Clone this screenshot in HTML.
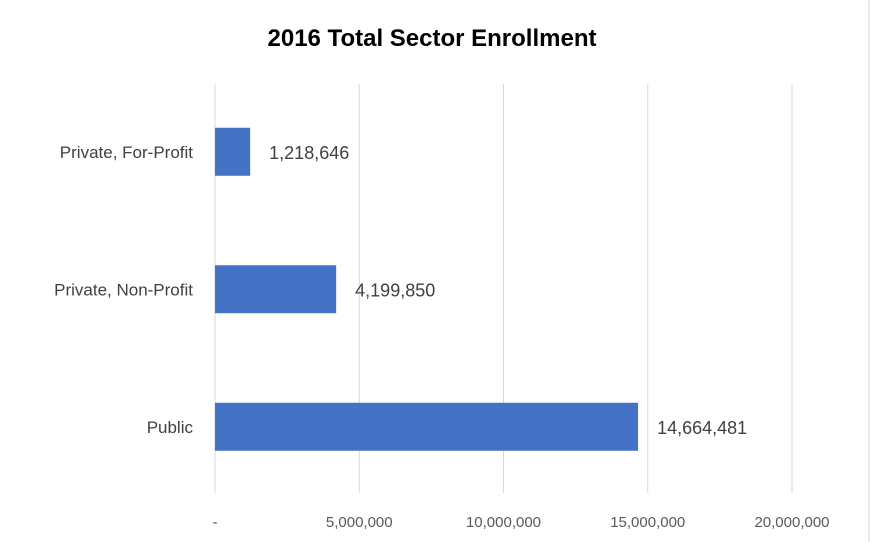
<!DOCTYPE html>
<html><head><meta charset="utf-8"><style>
body{margin:0;background:#fff;}
svg{display:block;font-family:"Liberation Sans",Calibri,sans-serif;}
</style></head><body>
<svg id="c" width="872" height="542">
<line x1="869" y1="0" x2="869" y2="542" stroke="#d9d9d9"/>
<text x="432" y="46" text-anchor="middle" font-size="24" font-weight="bold" fill="#000">2016 Total Sector Enrollment</text>
<g id="grid"></g><g id="bars"></g><g id="labels"></g>
</svg>
<script>
const categories=["Private, For-Profit","Private, Non-Profit","Public"];
const values=[1218646,4199850,14664481];
const valueLabels=["1,218,646","4,199,850","14,664,481"];
const ticks=[0,5000000,10000000,15000000,20000000];
const tickLabels=["-","5,000,000","10,000,000","15,000,000","20,000,000"];
const NS="http://www.w3.org/2000/svg";
const x0=215,x1=792,vmax=20000000;
const xs=v=>x0+(v/vmax)*(x1-x0);
const bandTop=83,bandH=137.5;
const ys=i=>bandTop+bandH*(i+0.5);
function mk(t,a,p){const e=document.createElementNS(NS,t);for(const k in a)e.setAttribute(k,a[k]);p.appendChild(e);return e;}
const g=document.getElementById('grid'),b=document.getElementById('bars'),l=document.getElementById('labels');
ticks.forEach((t,i)=>{
  const ln=mk('line',{x1:xs(t),x2:xs(t),y1:84,y2:493,stroke:'#d9d9d9','stroke-width':1},g);
  
  
  const tx=mk('text',{x:xs(t),y:527,'text-anchor':'middle','font-size':15,fill:'#595959'},l);
  tx.textContent=tickLabels[i];
  
  
});
categories.forEach((c,i)=>{
  const y=ys(i);
  const r=mk('rect',{x:x0,y:y-24,width:xs(values[i])-x0,height:48,fill:'#4472c4'},b);
  
  
  const ct=mk('text',{x:193,y:y+6,'text-anchor':'end','font-size':17,fill:'#404040'},l);
  ct.textContent=c;
  
  
  const vt=mk('text',{x:xs(values[i])+19,y:y+7,'font-size':18,fill:'#404040'},l);
  vt.textContent=valueLabels[i];
  
  
});
</script>
</body></html>
